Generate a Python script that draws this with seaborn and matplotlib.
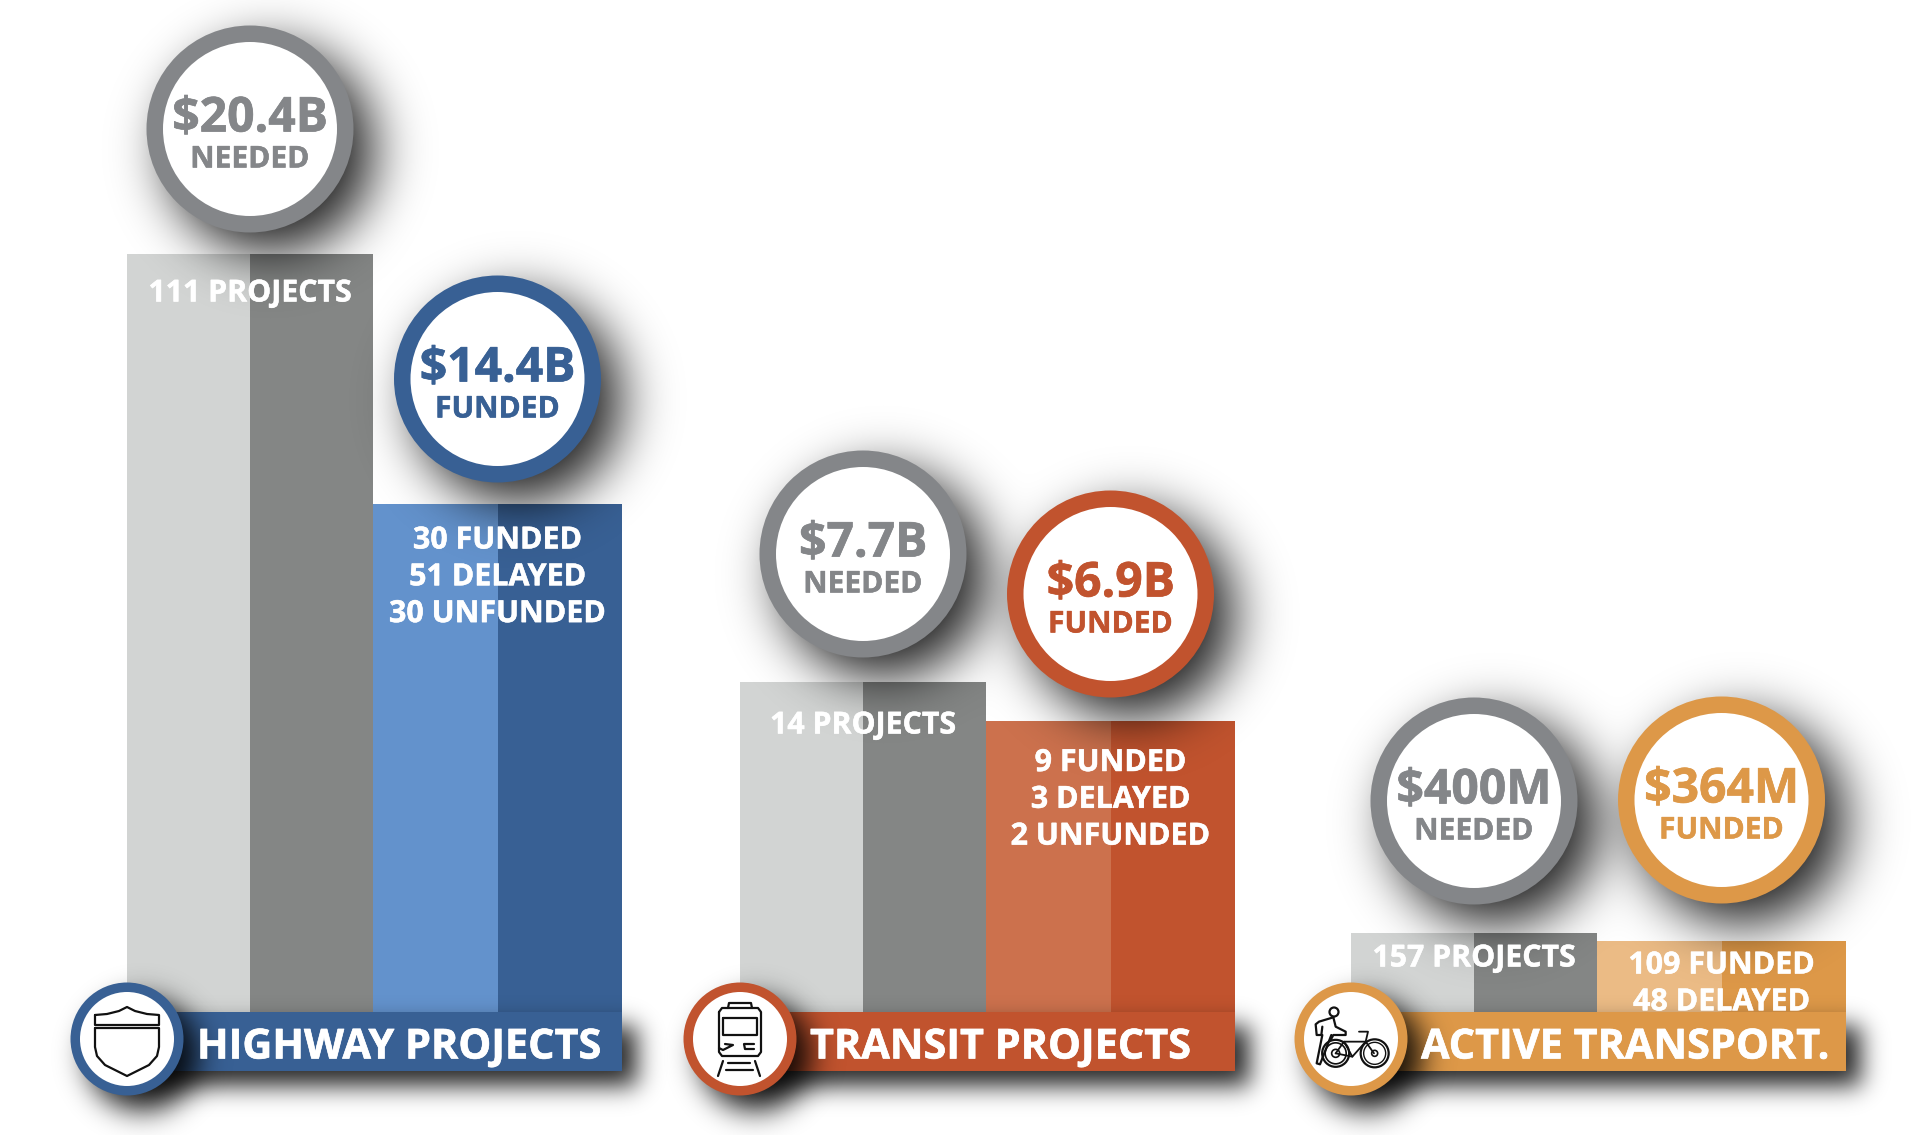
import numpy as np
import pandas as pd
import matplotlib
matplotlib.use("Agg")
import matplotlib.pyplot as plt
import matplotlib.patheffects as pe
from matplotlib.patches import Circle, Rectangle
import seaborn as sns

# ---- data ----
groups = ["HIGHWAY PROJECTS", "TRANSIT PROJECTS", "ACTIVE TRANSPORT."]
needed_amount = ["$20.4B", "$7.7B", "$400M"]
funded_amount = ["$14.4B", "$6.9B", "$364M"]
needed_bar_height = [817, 389, 138]
funded_bar_height = [567, 350, 130]
needed_projects = ["111 PROJECTS", "14 PROJECTS", "157 PROJECTS"]
funded_projects = [["30 FUNDED", "51 DELAYED", "30 UNFUNDED"],
                   ["9 FUNDED", "3 DELAYED", "2 UNFUNDED"],
                   ["109 FUNDED", "48 DELAYED"]]

# ---- layout and style ----
W, H = 1920, 1135
BASE = 1071
group_left = [127, 740, 1351]
needed_w = 123
funded_w = 124.5
accent = ["#386094", "#C1532E", "#DD9848"]
accent_light = ["#6392CC", "#CC714D", "#EBBB85"]
grey_light, grey_dark, ring_grey = "#D2D4D3", "#848685", "#848689"
needed_circle_y = [129, 554, 801]
funded_circle_y = [379, 594, 800]
needed_label_y = [290, 722, 955]
funded_label_y = [537, 759.5, 962]
line_step = 36.8
R_OUT, R_IN = 103.5, 87
BADGE_OUT, BADGE_IN = 56.5, 47
BANNER_TOP = 1012
TXT = ["Open Sans", "DejaVu Sans"]

sns.set_theme(style="white")
plt.rcParams["font.family"] = TXT

fig = plt.figure(figsize=(W / 100, H / 100), dpi=100, facecolor="white")
ax = fig.add_axes([0, 0, 1, 1])


def py(y):
    """picture row -> axis value (0 is the foot of the bars)"""
    return BASE - y


def label(x, y, s, col, size, z, ha="center", weight=0.35):
    t = ax.text(x, py(y), s, color=col, fontsize=size, fontweight="bold", ha=ha, va="center_baseline", zorder=z)
    t.set_path_effects([pe.withStroke(linewidth=weight, foreground=col)])


# ---- bars through seaborn ----
needed_rows, funded_rows = [], []
for g, name in enumerate(groups):
    left = group_left[g]
    needed_rows += [{"x": left + (k + .5) * needed_w, "height": needed_bar_height[g],
                     "segment": s, "colour": c}
                    for k, (s, c) in enumerate([("light", grey_light), ("dark", grey_dark)])]
    start = left + 2 * needed_w
    funded_rows += [{"x": start + (k + .5) * funded_w, "height": funded_bar_height[g],
                     "segment": f"{s} {g}", "colour": c}
                    for k, (s, c) in enumerate([("light", accent_light[g]), ("dark", accent[g])])]
for rows in (needed_rows, funded_rows):
    df = pd.DataFrame(rows)
    palette = dict(zip(df["segment"], df["colour"]))
    sns.barplot(data=df, x="x", y="height", hue="segment", palette=palette, native_scale=True,
                dodge=False, width=1, saturation=1, legend=False, errorbar=None, ax=ax, linewidth=0)

# ---- soft shadows ----
yy, xx = np.mgrid[0:H, 0:W]


def blur(mask, sigma):
    out = mask.astype(float)
    for axis, n in ((0, H), (1, W)):
        pad = n + int(4 * sigma)
        freq = np.fft.rfftfreq(pad)
        gain = np.exp(-2 * (np.pi * freq * sigma) ** 2)
        shape = [1, 1]
        shape[axis] = -1
        out = np.fft.irfft(np.fft.rfft(out, n=pad, axis=axis) * gain.reshape(shape), n=pad, axis=axis)
        out = np.take(out, range(n), axis=axis)
    return np.clip(out, 0, 1)


def shadow(mask, sigma, strength, z):
    rgba = np.zeros((H, W, 4))
    rgba[..., 3] = blur(mask, sigma) * strength
    ax.imshow(rgba, extent=(0, W, py(H), py(0)), origin="upper", aspect="auto", zorder=z,
              interpolation="bilinear")


def disc(cx, cy, r, off):
    return (xx - cx - off) ** 2 + (yy - cy - off) ** 2 <= r ** 2


circle_mask = np.zeros((H, W), bool)
banner_mask = np.zeros((H, W), bool)
badge_mask = np.zeros((H, W), bool)
for g in range(3):
    cn = group_left[g] + needed_w
    cf = group_left[g] + 2 * needed_w + funded_w
    circle_mask |= disc(cn, needed_circle_y[g], R_OUT, 20) | disc(cf, funded_circle_y[g], R_OUT, 20)
    right = group_left[g] + 2 * needed_w + 2 * funded_w
    banner_mask |= (xx >= group_left[g] + 14) & (xx <= right + 14) & (yy >= BANNER_TOP + 14) & (yy <= BASE + 14)
    badge_mask |= disc(group_left[g], 1039, BADGE_OUT, 15)
shadow(banner_mask, 12, 0.85, 2)
shadow(circle_mask, 26, 0.88, 3)
shadow(badge_mask, 14, 0.88, 5)


# ---- money circles ----
def money(cx, cy, ring, amount, word):
    ax.add_patch(Circle((cx, py(cy)), R_OUT, fc=ring, ec="none", zorder=4))
    ax.add_patch(Circle((cx, py(cy)), R_IN, fc="white", ec="none", zorder=4.1))
    label(cx, cy - 16, amount, ring, 34.6, 4.2, weight=0.5)
    label(cx, cy + 27, word, ring, 21.6, 4.2, weight=0.35)


for g in range(3):
    cn = group_left[g] + needed_w
    cf = group_left[g] + 2 * needed_w + funded_w
    money(cn, needed_circle_y[g], ring_grey, needed_amount[g], "NEEDED")
    money(cf, funded_circle_y[g], accent[g], funded_amount[g], "FUNDED")
    label(cn, needed_label_y[g], needed_projects[g], "white", 21.8, 3.5)
    for i, line in enumerate(funded_projects[g]):
        label(cf, funded_label_y[g] + i * line_step, line, "white", 21.9, 3.5)
    # banner
    width = 2 * needed_w + 2 * funded_w
    ax.add_patch(Rectangle((group_left[g], py(BASE)), width, BASE - BANNER_TOP, fc=accent[g], ec="none", zorder=4))
    label(group_left[g] + 70, 1043, groups[g], "white", 29.8, 7, ha="left", weight=0.45)
    # badge
    ax.add_patch(Circle((group_left[g], py(1039)), BADGE_OUT, fc=accent[g], ec="none", zorder=6))
    ax.add_patch(Circle((group_left[g], py(1039)), BADGE_IN, fc="white", ec="none", zorder=6.1))


# ---- icons, drawn relative to the badge centre ----
def stroke(cx, pts, lw=1.6, closed=False):
    x, y = zip(*pts)
    x = [cx + v for v in x]
    y = [py(1039 + v) for v in y]
    if closed:
        x.append(x[0]); y.append(y[0])
    ax.plot(x, y, color="#111111", lw=lw, zorder=6.5, solid_capstyle="round", solid_joinstyle="round",
            scalex=False, scaley=False)


def ring(cx, dx, dy, r, lw=1.6):
    ax.add_patch(Circle((cx + dx, py(1039 + dy)), r, fc="none", ec="#111111", lw=lw, zorder=6.5))


# shield
c = group_left[0]
stroke(c, [(-32, -24), (-20, -25), (-8, -28), (0, -32), (8, -28), (20, -25), (32, -24), (32, -14), (-32, -14)], closed=True)
stroke(c, [(-32, -11), (32, -11), (32, 8), (30, 17), (22, 26), (12, 31), (0, 37), (-12, 31), (-22, 26), (-30, 17), (-32, 8)], closed=True)

# train
c = group_left[1]
stroke(c, [(-21, -27), (-18, -31), (18, -31), (21, -27), (21, 13), (18, 17), (-18, 17), (-21, 13)], closed=True)
stroke(c, [(-12, -31), (-11, -36), (11, -36), (12, -31)])
stroke(c, [(-17, -21), (17, -21), (17, -4), (-17, -4)], closed=True)
stroke(c, [(-21, 9), (-17, 11), (-7, 6), (-15, 5)])
stroke(c, [(14, 5), (4, 5), (5, 10), (14, 10)])
stroke(c, [(-17, 22), (-22, 37)])
stroke(c, [(15, 22), (20, 37)])
stroke(c, [(-12, 24), (10, 24)])
stroke(c, [(-14, 31), (13, 31)])

# person and bicycle
c = group_left[2]
b = lambda *p: [((u - 171) / 3, (v - 162) / 3) for u, v in p]
ring(c, -17, -27, 4.5)
stroke(c, b((118, 97), (75, 110), (65, 118), (68, 150), (82, 150), (85, 125)))
stroke(c, b((85, 150), (68, 235), (78, 238), (112, 150)))
stroke(c, b((118, 97), (125, 125), (155, 140), (155, 150), (118, 150), (110, 165)))
stroke(c, b((125, 205), (150, 170), (215, 170), (240, 205)), lw=1.3)
stroke(c, b((150, 170), (175, 215), (215, 170)), lw=1.3)
stroke(c, b((175, 215), (125, 205)), lw=1.3)
stroke(c, b((215, 170), (222, 140), (195, 140)), lw=1.3)
ring(c, (125 - 171) / 3, (205 - 162) / 3, 13.5, 1.6)
ring(c, (125 - 171) / 3, (205 - 162) / 3, 10.5, 1.2)
ring(c, (125 - 171) / 3, (205 - 162) / 3, 4, 1.2)
ring(c, (242 - 171) / 3, (205 - 162) / 3, 14, 1.6)
ring(c, (242 - 171) / 3, (205 - 162) / 3, 11, 1.0)
ring(c, (242 - 171) / 3, (205 - 162) / 3, 3, 1.2)

ax.set_xlim(0, W)
ax.set_ylim(py(H), py(0))
ax.axis("off")
fig.savefig("out.png", dpi=100, facecolor="white")
